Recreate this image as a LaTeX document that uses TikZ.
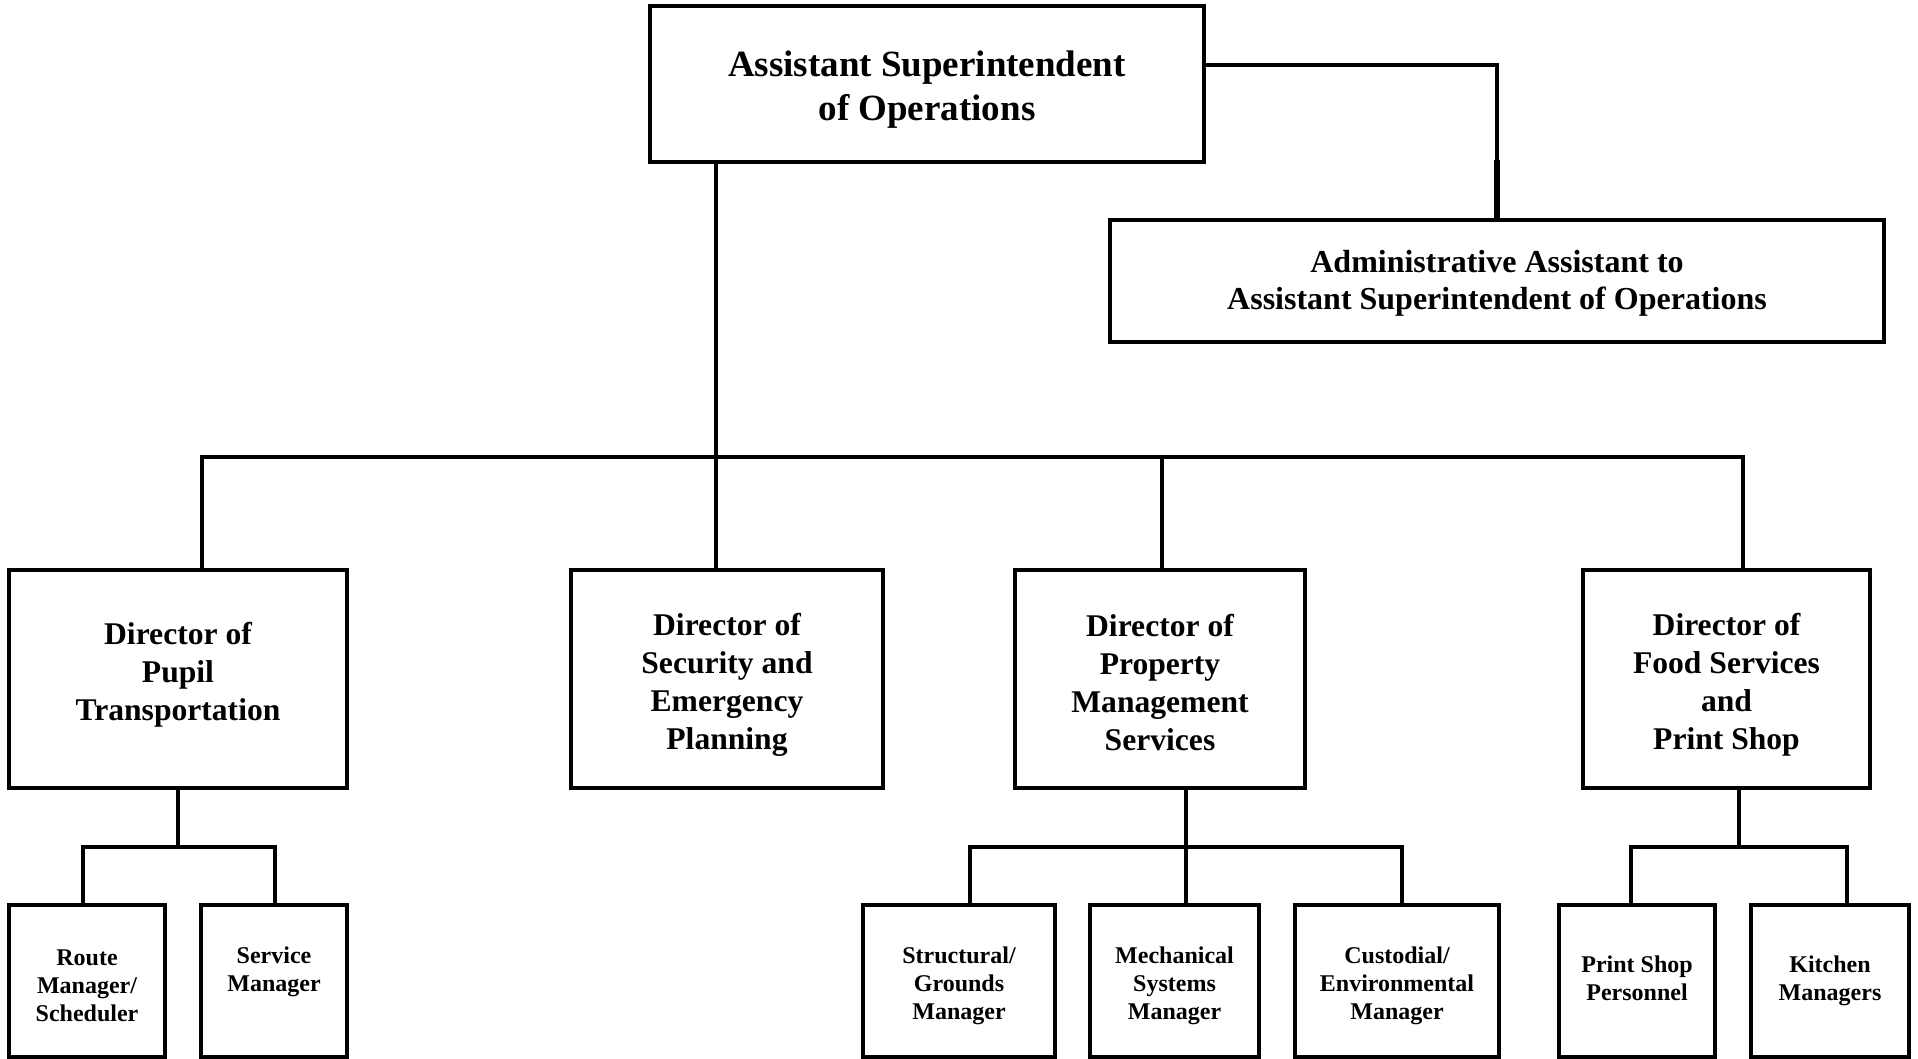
\documentclass[tikz,border=0pt]{standalone}
\usepackage{fontspec}
\setmainfont{Liberation Serif}
\begin{document}
\begin{tikzpicture}[x=1pt,y=-1pt,
  box/.style={draw, line width=4pt, inner sep=0pt, outer sep=0pt, align=center},
  conn/.style={draw, line width=4pt, line join=miter},
  bigtxt/.style={font=\fontsize{37}{44}\selectfont\bfseries, align=center},
  admtxt/.style={font=\fontsize{32}{37}\selectfont\bfseries, align=center},
  dirtxt/.style={font=\fontsize{31.6}{38}\selectfont\bfseries, align=center},
  smalltxt/.style={font=\fontsize{24}{28}\selectfont\bfseries, align=center},
  dirbox/.style={box, minimum height=218pt},
  subbox/.style={box, minimum height=152pt}]
\useasboundingbox (0,0) rectangle (1918,1058);

% top level
\node[box, minimum width=554pt, minimum height=156pt,
  label={[bigtxt, yshift=-6pt]center:{Assistant Superintendent\\of Operations}}] (top) at (927,84) {};
\node[box, minimum width=774pt, minimum height=122pt,
  label={[admtxt, yshift=-2.5pt]center:{Administrative Assistant to\\Assistant Superintendent of Operations}}] (admin) at (1497,281) {};

% directors
\node[dirbox, minimum width=338pt,
  label={[dirtxt, yshift=4pt]center:{Director of\\Pupil\\Transportation}}] (d1) at (178,679) {};
\node[dirbox, minimum width=312pt,
  label={[dirtxt, yshift=-6pt]center:{Director of\\Security and\\Emergency\\Planning}}] (d2) at (727,679) {};
\node[dirbox, minimum width=290pt,
  label={[dirtxt, yshift=-4pt]center:{Director of\\Property\\Management\\Services}}] (d3) at (1160,679) {};
\node[dirbox, minimum width=287pt,
  label={[dirtxt, yshift=-6pt]center:{Director of\\Food Services\\and\\Print Shop}}] (d4) at (1726.5,679) {};

% sub boxes
\node[subbox, minimum width=156pt,
  label={[smalltxt, yshift=-5pt]center:{Route\\Manager/\\Scheduler}}] (route) at (87,981) {};
\node[subbox, minimum width=146pt,
  label={[smalltxt, yshift=9pt]center:{Service\\Manager}}] (service) at (274,981) {};
\node[subbox, minimum width=192pt,
  label={[smalltxt, yshift=-5pt]center:{Structural/\\Grounds\\Manager}}] (struct) at (959,981) {};
\node[subbox, minimum width=169pt,
  label={[smalltxt, yshift=-5pt]center:{Mechanical\\Systems\\Manager}}] (mech) at (1174.5,981) {};
\node[subbox, minimum width=204pt,
  label={[smalltxt, yshift=-5pt]center:{Custodial/\\Environmental\\Manager}}] (cust) at (1397,981) {};
\node[subbox, minimum width=156pt,
  label={[smalltxt, yshift=2.5pt]center:{Print Shop\\Personnel}}] (print) at (1637,981) {};
\node[subbox, minimum width=158pt,
  label={[smalltxt]center:{Kitchen\\Managers}}] (kitchen) at (1830,981) {};

% top connectors
\coordinate (tj) at (1497,65);
\coordinate (tk) at (1497,160);
\draw[conn] (top.east |- tj) -- (tj) -- (admin.north);
\draw[line width=6pt] (tk) -- (admin.north);

\coordinate (bt) at (716,457);
\coordinate (b1) at (202,457);
\coordinate (b3) at (1162,457);
\coordinate (b4) at (1743,457);
\draw[conn] (top.south -| bt) -- (bt);
\draw[conn] (b1 |- d1.north) -- (b1) -- (b4) -- (b4 |- d4.north);
\draw[conn] (bt) -- (bt |- d2.north);
\draw[conn] (b3) -- (b3 |- d3.north);

% director 1 children
\coordinate (p1) at (177.5,847);
\coordinate (p1a) at (83,847);
\coordinate (p1b) at (275,847);
\draw[conn] (d1.south -| p1) -- (p1);
\draw[conn] (p1a |- route.north) -- (p1a) -- (p1b) -- (p1b |- service.north);

% director 3 children
\coordinate (p3) at (1186,847);
\coordinate (p3a) at (970,847);
\coordinate (p3b) at (1402,847);
\draw[conn] (d3.south -| p3) -- (p3) -- (p3 |- mech.north);
\draw[conn] (p3a |- struct.north) -- (p3a) -- (p3b) -- (p3b |- cust.north);

% director 4 children
\coordinate (p4) at (1739,847);
\coordinate (p4a) at (1631,847);
\coordinate (p4b) at (1847,847);
\draw[conn] (d4.south -| p4) -- (p4);
\draw[conn] (p4a |- print.north) -- (p4a) -- (p4b) -- (p4b |- kitchen.north);
\end{tikzpicture}
\end{document}
